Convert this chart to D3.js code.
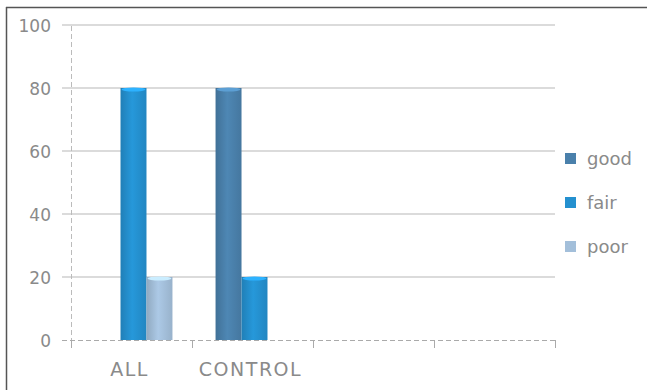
<!DOCTYPE html>
<html>
<head>
<meta charset="utf-8">
<script src="https://cdn.jsdelivr.net/npm/d3@7"></script>
<style>
html,body{margin:0;padding:0;background:#fff;}
svg{display:block;}
</style>
</head>
<body>
<svg id="chart" width="647" height="390"></svg>
<script>
const categories = ["ALL", "CONTROL", "", ""];
const series = ["good", "fair", "poor"];
const good = [0, 80, 0, 0];
const fair = [80, 20, 0, 0];
const poor = [20, 0, 0, 0];
const yTicks = [0, 20, 40, 60, 80, 100];
const colors = ["#4a80ab", "#2490cf", "#a3bfda"];

(function () {
const values = {good, fair, poor};
const svg = d3.select("#chart");
const W = 647, H = 390;
const pLeft = 71, pRight = 555, pTop = 25, pBottom = 340;
const txt = "#8a8a8a";

// frame
svg.append("line").attr("x1", 6).attr("x2", W).attr("y1", 7.5).attr("y2", 7.5)
  .attr("stroke", "#555").attr("stroke-width", 1.5);
svg.append("line").attr("x1", 6.5).attr("x2", 6.5).attr("y1", 7).attr("y2", H)
  .attr("stroke", "#555").attr("stroke-width", 1.5);

const keys = categories.map((c, i) => "c" + i);
const x0 = d3.scaleBand().domain(keys).range([pLeft, pRight]).padding(0);
const x1 = d3.scaleBand().domain(series).range([2, x0.bandwidth() + 2]).paddingInner(0).paddingOuter(0.83);
const y = d3.scaleLinear().domain([0, 100]).range([pBottom, pTop]);

// gridlines
svg.append("g").selectAll("line").data(yTicks.filter(t => t > 0)).join("line")
  .attr("x1", pLeft - 9).attr("x2", pRight)
  .attr("y1", d => y(d)).attr("y2", d => y(d))
  .attr("stroke", "#cfcfcf").attr("stroke-width", 1.5);

// y axis (dashed)
svg.append("line").attr("x1", pLeft + 0.5).attr("x2", pLeft + 0.5).attr("y1", pTop + 1).attr("y2", pBottom + 8)
  .attr("stroke", "#bbb").attr("stroke-width", 1).attr("stroke-dasharray", "5,3");

// y tick labels
svg.append("g").selectAll("text").data(yTicks).join("text")
  .attr("x", 51).attr("y", d => y(d) + 1).attr("dy", "0.36em")
  .attr("text-anchor", "end")
  .attr("font-family", "DejaVu Sans").attr("font-size", 17)
  .attr("fill", txt)
  .text(d => d);

// gradients for bars
const defs = svg.append("defs");
series.forEach((s, i) => {
  const c = d3.color(colors[i]);
  const g = defs.append("linearGradient").attr("id", "g_" + s).attr("x1", 0).attr("x2", 1).attr("y1", 0).attr("y2", 0);
  g.append("stop").attr("offset", "0%").attr("stop-color", c.darker(0.35));
  g.append("stop").attr("offset", "45%").attr("stop-color", c.brighter(0.15));
  g.append("stop").attr("offset", "100%").attr("stop-color", c.darker(0.2));
});

// bars
const groups = svg.append("g").selectAll("g").data(keys).join("g")
  .attr("transform", d => `translate(${x0(d)},0)`);
groups.selectAll("rect").data((k, ci) => series.map(s => ({s, v: values[s][ci]})).filter(d => d.v > 0)).join("rect")
  .attr("x", d => x1(d.s)).attr("width", x1.bandwidth())
  .attr("y", d => y(d.v)).attr("height", d => y(0) - y(d.v))
  .attr("fill", d => `url(#g_${d.s})`);
groups.selectAll("ellipse").data((k, ci) => series.map(s => ({s, v: values[s][ci]})).filter(d => d.v > 0)).join("ellipse")
  .attr("cx", d => x1(d.s) + x1.bandwidth() / 2).attr("cy", d => y(d.v) + 1.5)
  .attr("rx", x1.bandwidth() / 2 - 1).attr("ry", 2)
  .attr("fill", d => d3.color(colors[series.indexOf(d.s)]).brighter(0.6));

// x axis (dashed) with ticks
svg.append("line").attr("x1", pLeft - 9).attr("x2", pRight).attr("y1", pBottom + 0.5).attr("y2", pBottom + 0.5)
  .attr("stroke", "#aaa").attr("stroke-width", 1).attr("stroke-dasharray", "5,3");
const bounds = keys.map(k => x0(k)).concat([pRight]);
svg.append("g").selectAll("line").data(bounds).join("line")
  .attr("x1", d => d + 0.5).attr("x2", d => d + 0.5).attr("y1", pBottom).attr("y2", pBottom + 8)
  .attr("stroke", "#aaa").attr("stroke-width", 1);

// x labels
svg.append("g").selectAll("text").data(keys).join("text")
  .attr("x", d => x0(d) + x0.bandwidth() / 2 - 2).attr("y", 376)
  .attr("text-anchor", "middle")
  .attr("font-family", "DejaVu Sans").attr("font-size", 19)
  .attr("letter-spacing", 1.5)
  .attr("fill", txt)
  .text((d, i) => categories[i]);

// legend
const legendY = [159, 203, 247];
const lg = svg.append("g").selectAll("g").data(series).join("g")
  .attr("transform", (d, i) => `translate(565,${legendY[i]})`);
lg.append("rect").attr("x", 0).attr("y", -6).attr("width", 11).attr("height", 11)
  .attr("fill", (d, i) => colors[i]);
lg.append("text").attr("x", 22).attr("y", 0).attr("dy", "0.36em")
  .attr("font-family", "DejaVu Sans").attr("font-size", 18)
  .attr("fill", txt)
  .text(d => d);
})();
</script>
</body>
</html>
